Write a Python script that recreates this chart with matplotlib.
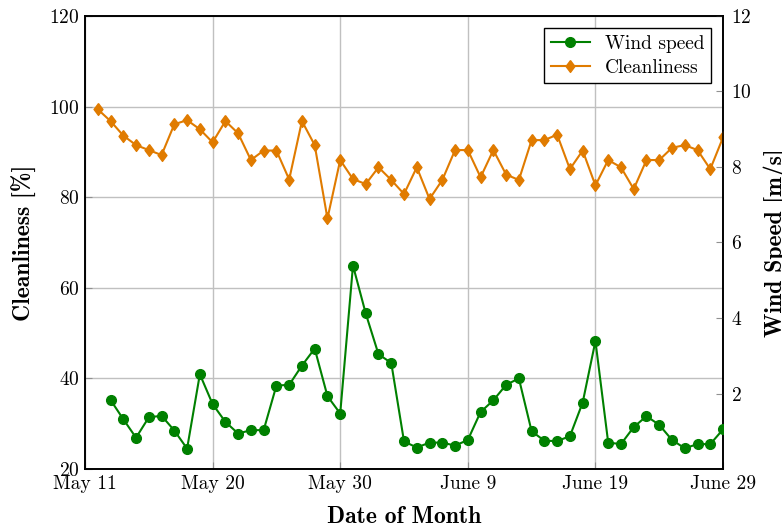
"""Cleanliness and wind speed over the measurement period."""
import numpy as np
import matplotlib
matplotlib.use("Agg")
import matplotlib.pyplot as plt

FIGSIZE = (7.82, 5.27)

# day index counted from May 10
cleanliness_days = np.arange(1, 51)
cleanliness = [99.4, 96.8, 93.6, 91.5, 90.4, 89.3, 96.1, 97.0, 95.0, 92.1,
               96.8, 94.1, 88.2, 90.3, 90.3, 83.9, 96.8, 91.5, 75.3, 88.2,
               84.0, 82.9, 86.6, 83.8, 80.7, 86.6, 79.6, 83.8, 90.4, 90.4,
               84.4, 90.4, 85.0, 83.8, 92.6, 92.6, 93.8, 86.2, 90.3, 82.6,
               88.2, 86.6, 81.8, 88.2, 88.2, 90.9, 91.5, 90.4, 86.2, 93.2]

wind_days = np.arange(2, 51)
wind_speed = [1.83, 1.32, 0.83, 1.37, 1.41, 1.02, 0.54, 2.51, 1.72,
              1.25, 0.94, 1.03, 1.03, 2.21, 2.23, 2.74, 3.19, 1.93, 1.47,
              5.39, 4.12, 3.04, 2.81, 0.73, 0.57, 0.70, 0.70, 0.62, 0.77,
              1.51, 1.82, 2.23, 2.40, 1.00, 0.75, 0.74, 0.87, 1.76, 3.39,
              0.70, 0.66, 1.11, 1.40, 1.17, 0.77, 0.55, 0.66, 0.66, 1.05]

tick_days = [0, 10, 20, 30, 40, 50]
tick_labels = ["May 11", "May 20", "May 30", "June 9", "June 19", "June 29"]

GREEN = "#008000"
ORANGE = "#e07b00"
# slightly tall diamond, like pgfplots diamond*
DIAMOND = [(0, 1), (0.75, 0), (0, -1), (-0.75, 0), (0, 1)]

plt.rcParams["font.family"] = "serif"
plt.rcParams["font.serif"] = ["cmr10"]
plt.rcParams["mathtext.fontset"] = "cm"
plt.rcParams["axes.formatter.use_mathtext"] = True
plt.rcParams["font.size"] = 14

fig = plt.figure(figsize=FIGSIZE, dpi=100)
ax = fig.add_axes([0.1087, 0.110, 0.8159, 0.8597])
ax2 = ax.twinx()

ax.plot(cleanliness_days, cleanliness, color=ORANGE, marker=DIAMOND,
        markersize=8.5, linewidth=1.5, label="Cleanliness", zorder=3)
ax2.plot(wind_days, wind_speed, color=GREEN, marker="o",
         markersize=7, linewidth=1.5, label="Wind speed", zorder=3)

ax.set_xlim(0, 50)
ax.set_ylim(20, 120)
ax2.set_ylim(0, 12)
ax.set_xticks(tick_days)
ax.set_xticklabels(tick_labels)
ax.set_yticks([20, 40, 60, 80, 100, 120])
ax2.set_yticks([2, 4, 6, 8, 10, 12])

ax.grid(True, color="#c0c0c0", linewidth=1)
ax.set_axisbelow(True)
ax.tick_params(direction="in", length=5, color="#909090", pad=4)
ax2.tick_params(direction="in", length=5, color="#909090", pad=6)
for a in (ax, ax2):
    for s in a.spines.values():
        s.set_linewidth(1.2)

ax.set_xlabel("Date of Month", family="cmb10", fontsize=17, labelpad=10)
ax.set_ylabel("Cleanliness [%]", family="cmb10", fontsize=17, labelpad=9)
ax2.set_ylabel("Wind Speed [m/s]", family="cmb10", fontsize=17, labelpad=8)

h1, l1 = ax2.get_legend_handles_labels()
h2, l2 = ax.get_legend_handles_labels()
leg = ax2.legend(h1 + h2, l1 + l2, loc="upper right", fancybox=False,
                 edgecolor="black", framealpha=1, fontsize=14,
                 handlelength=2.0, borderpad=0.35, labelspacing=0.3,
                 bbox_to_anchor=(0.997, 0.995))
leg.get_frame().set_linewidth(1.0)

fig.savefig("out.png", dpi=100)
